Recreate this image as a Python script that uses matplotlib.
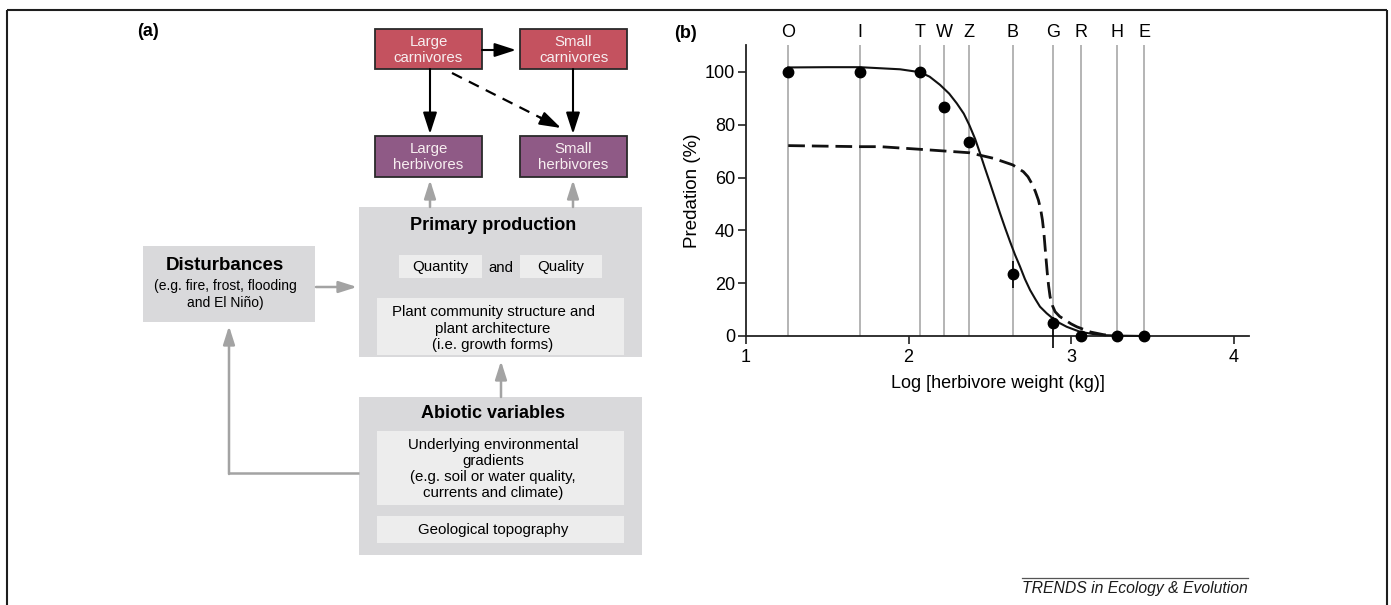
import matplotlib
matplotlib.use("Agg")
import matplotlib.pyplot as plt
from matplotlib.patches import Rectangle

plt.rcParams['font.family'] = ['Liberation Sans', 'DejaVu Sans']

# ---------------- Panel (b) data ----------------
species = ['O', 'I', 'T', 'W', 'Z', 'B', 'G', 'R', 'H', 'E']
log_weight = [1.26, 1.70, 2.07, 2.22, 2.37, 2.64, 2.89, 3.06, 3.28, 3.45]
predation = [100, 100, 100, 86.8, 73.6, 23.4, 4.8, 0, 0, 0]
err_low = [0, 0, 0, 0, 0, 5.3, 9.3, 0, 0, 0]
err_high = [0, 0, 0, 0, 0, 5.0, 2.5, 0, 0, 0]

solid_x = [1.26, 1.50, 1.70, 1.825, 1.948, 2.071, 2.13, 2.194, 2.25, 2.297, 2.34,
           2.374, 2.41, 2.44, 2.47, 2.502, 2.53, 2.563, 2.595, 2.625, 2.655, 2.686,
           2.716, 2.748, 2.78, 2.809, 2.85, 2.887, 2.93, 2.973, 3.055, 3.13, 3.21,
           3.33, 3.45]
solid_y = [101.7, 101.8, 101.8, 101.4, 101.0, 99.9, 98.2, 95.1, 91.8, 88.1, 84.2,
           79.9, 74.6, 69.2, 63.6, 57.8, 52.6, 46.5, 40.8, 35.7, 30.8, 26.3,
           21.6, 17.4, 14.0, 11.1, 8.6, 6.7, 4.9, 3.5, 1.6, 0.8, 0.3,
           0.1, 0.0]

dashed_x = [1.26, 1.70, 1.825, 2.071, 2.374, 2.522, 2.641, 2.707, 2.735, 2.758,
            2.78, 2.799, 2.813, 2.824, 2.833, 2.840, 2.847, 2.854, 2.862, 2.871,
            2.885, 2.902, 2.93, 2.963, 3.0, 3.035, 3.12, 3.2, 3.28]
dashed_y = [72.1, 71.7, 71.7, 70.7, 69.4, 67.3, 64.8, 62.2, 60.3, 57.8,
            54.8, 51.5, 48.0, 43.9, 39.0, 33.8, 28.7, 23.7, 19.0, 14.9,
            11.6, 9.2, 7.4, 6.1, 4.6, 3.5, 1.5, 0.5, 0.0]

x_ticks = [1, 2, 3, 4]
y_ticks = [0, 20, 40, 60, 80, 100]

# ---------------- Panel (a) texts ----------------
carnivore_labels = ['Large\ncarnivores', 'Small\ncarnivores']
herbivore_labels = ['Large\nherbivores', 'Small\nherbivores']
primary_title = 'Primary production'
primary_items = ['Quantity', 'and', 'Quality']
plant_text = 'Plant community structure and\nplant architecture\n(i.e. growth forms)'
disturb_title = 'Disturbances'
disturb_text = '(e.g. fire, frost, flooding\nand El Niño)'
abiotic_title = 'Abiotic variables'
abiotic_text = 'Underlying environmental\ngradients\n(e.g. soil or water quality,\ncurrents and climate)'
geo_text = 'Geological topography'
footer = 'TRENDS in Ecology & Evolution'

W, H = 1391, 605
fig = plt.figure(figsize=(W / 100, H / 100), dpi=100)

# full-figure pixel axes for diagram + frame
ax = fig.add_axes([0, 0, 1, 1])
ax.set_xlim(0, W)
ax.set_ylim(H, 0)
ax.axis('off')

FRAME = '#1e1e1e'
ax.plot([6.5, 6.5], [605, 10], color=FRAME, lw=1.5, solid_capstyle='butt')
ax.plot([6.5, 1386.5], [10, 10], color=FRAME, lw=1.5, solid_capstyle='butt')
ax.plot([1386.5, 1386.5], [10, 605], color=FRAME, lw=1.5, solid_capstyle='butt')

RED = '#c4525f'
PURPLE = '#8f5a86'
GREY_BOX = '#d9d9db'
LIGHT_BOX = '#ededed'
GREY_ARROW = '#a3a3a3'


def box(x0, y0, x1, y1, fc, ec='none', lw=0, z=1):
    ax.add_patch(Rectangle((x0, y0), x1 - x0, y1 - y0, fc=fc, ec=ec, lw=lw, zorder=z))


def arrow(x0, y0, x1, y1, color, hl=1.3, hw=0.42, lw=1.5):
    ax.annotate('', xy=(x1, y1), xytext=(x0, y0),
                arrowprops=dict(arrowstyle=f'-|>,head_length={hl},head_width={hw}',
                                color=color, lw=lw, shrinkA=0, shrinkB=0))


ax.text(137, 32, '(a)', fontsize=13, fontweight='bold', ha='left', va='center')

# coloured boxes
for (x0, x1), lab in zip([(375, 482), (520, 627)], carnivore_labels):
    box(x0, 29, x1, 69, RED, ec='#2a2a2a', lw=1.3, z=3)
    ax.text((x0 + x1) / 2, 50, lab, color='#f7eef0', fontsize=10.8, ha='center',
            va='center', linespacing=1.1, zorder=4)
for (x0, x1), lab in zip([(375, 482), (520, 627)], herbivore_labels):
    box(x0, 136, x1, 177, PURPLE, ec='#2a2a2a', lw=1.3, z=3)
    ax.text((x0 + x1) / 2, 157, lab, color='#f7eef0', fontsize=10.8, ha='center',
            va='center', linespacing=1.1, zorder=4)

# black arrows
arrow(482, 50, 516, 50, 'black')
arrow(430, 69, 430, 134, 'black')
arrow(573, 69, 573, 134, 'black')
ax.plot([452, 546], [73, 120.5], color='black', lw=1.6, dashes=(5, 3.5))
arrow(540, 117.5, 561, 128, 'black')

# primary production
box(359, 207, 642, 357, GREY_BOX)
ax.text(493, 225, primary_title, fontsize=13, fontweight='bold', ha='center', va='center')
box(399, 255, 482, 278, LIGHT_BOX, z=2)
box(520, 255, 602, 278, LIGHT_BOX, z=2)
ax.text(440.5, 267, primary_items[0], fontsize=10.8, ha='center', va='center', zorder=3)
ax.text(501, 268, primary_items[1], fontsize=10.8, ha='center', va='center', zorder=3)
ax.text(561, 267, primary_items[2], fontsize=10.8, ha='center', va='center', zorder=3)
box(377, 298, 624, 355, LIGHT_BOX, z=2)
ax.text(493, 328.5, plant_text, fontsize=10.8, ha='center', va='center',
        linespacing=1.2, zorder=3)

# disturbances
box(143, 246, 315, 322, GREY_BOX)
ax.text(225, 266, disturb_title, fontsize=13.5, fontweight='bold', ha='center', va='center')
ax.text(225, 294.5, disturb_text, fontsize=10, ha='center', va='center', linespacing=1.35)

# abiotic
box(359, 397, 642, 555, GREY_BOX)
ax.text(493, 414, abiotic_title, fontsize=13, fontweight='bold', ha='center', va='center')
box(377, 431, 624, 505, LIGHT_BOX, z=2)
ax.text(493, 469, abiotic_text, fontsize=10.8, ha='center', va='center',
        linespacing=1.2, zorder=3)
box(377, 516, 624, 543, LIGHT_BOX, z=2)
ax.text(493, 530, geo_text, fontsize=10.8, ha='center', va='center', zorder=3)

# grey arrows
arrow(430, 207, 430, 180, GREY_ARROW, hl=1.1, hw=0.35, lw=1.8)
arrow(573, 207, 573, 180, GREY_ARROW, hl=1.1, hw=0.35, lw=1.8)
arrow(316, 287, 357, 287, GREY_ARROW, hl=1.1, hw=0.35, lw=1.8)
arrow(501, 397, 501, 361, GREY_ARROW, hl=1.1, hw=0.35, lw=1.8)
ax.plot([359, 229], [473, 473], color=GREY_ARROW, lw=1.8, solid_capstyle='butt')
arrow(229, 474, 229, 326, GREY_ARROW, hl=1.1, hw=0.35, lw=1.8)

# footer
ax.plot([1022, 1248], [578, 578], color='#555555', lw=0.9)
ax.text(1022, 589, footer, fontsize=11.3, style='italic', ha='left', va='center',
        color='#1a1a1a')

# ---------------- Panel (b) ----------------
FS = 13
bx = fig.add_axes([746 / W, 1 - 336 / H, (1249 - 746) / W, (336 - 45) / H])
bx.set_xlim(1, 4.095)
bx.set_ylim(0, 110.2)
for s in ['top', 'right']:
    bx.spines[s].set_visible(False)
for s in ['left', 'bottom']:
    bx.spines[s].set_linewidth(1.3)
    bx.spines[s].set_color('#222222')
    bx.spines[s].set_zorder(1)

for xv, lab in zip(log_weight, species):
    bx.axvline(xv, color='#a8a8a8', lw=1.2, zorder=0)
    bx.text(xv, 115.0, lab, ha='center', va='center', fontsize=FS, clip_on=False)

bx.plot(solid_x, solid_y, color='#111111', lw=1.5, zorder=3, clip_on=False)
bx.plot(dashed_x, dashed_y, color='#111111', lw=2.0, dashes=(6, 2.5), zorder=3,
        clip_on=False)
bx.errorbar(log_weight, predation, yerr=[err_low, err_high], fmt='o', color='black',
            ms=7.5, elinewidth=1.2, capsize=0, zorder=5, clip_on=False)

bx.set_xticks(x_ticks)
bx.set_yticks(y_ticks)
bx.tick_params(axis='both', labelsize=FS, length=6, width=1.2, color='#222222')
bx.tick_params(axis='x', pad=3.5)
bx.tick_params(axis='y', pad=2)
bx.set_xlabel('Log [herbivore weight (kg)]', fontsize=FS)
bx.set_ylabel('Predation (%)', fontsize=FS + 0.5)
bx.xaxis.set_label_coords(0.5, -(375 - 336) / 291, transform=bx.transAxes)
bx.yaxis.set_label_coords(-(746 - 701) / 503, 0.5, transform=bx.transAxes)

fig.text(674 / W, 1 - 33 / H, '(b)', fontsize=13, fontweight='bold', ha='left', va='center')

fig.savefig('out.png', dpi=100)
